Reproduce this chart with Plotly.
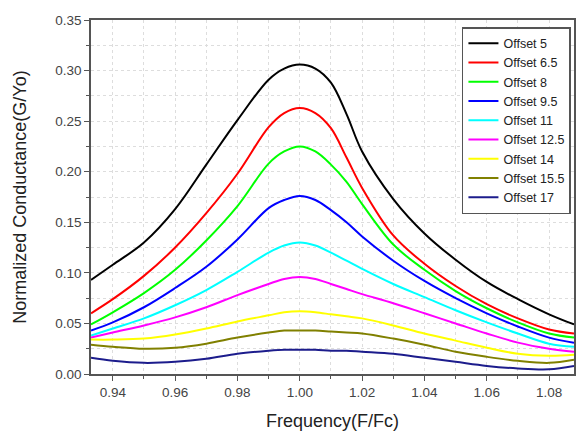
import plotly.graph_objects as go

freq = [0.933, 0.94, 0.95, 0.96, 0.97, 0.98, 0.99, 0.995, 1.00, 1.005, 1.01, 1.015,
        1.02, 1.03, 1.04, 1.05, 1.06, 1.07, 1.08, 1.088]

names = ["Offset 5", "Offset 6.5", "Offset 8", "Offset 9.5", "Offset 11",
         "Offset 12.5", "Offset 14", "Offset 15.5", "Offset 17"]

offset_5 = [0.093, 0.108, 0.130, 0.163, 0.207, 0.251, 0.291, 0.302, 0.306, 0.302, 0.288, 0.257, 0.220, 0.173, 0.139, 0.113, 0.091, 0.074, 0.059, 0.049]
offset_6_5 = [0.060, 0.074, 0.097, 0.125, 0.159, 0.198, 0.244, 0.258, 0.263, 0.258, 0.243, 0.214, 0.184, 0.137, 0.109, 0.087, 0.069, 0.055, 0.044, 0.040]
offset_8 = [0.049, 0.061, 0.080, 0.103, 0.132, 0.166, 0.208, 0.220, 0.225, 0.220, 0.207, 0.190, 0.168, 0.128, 0.103, 0.082, 0.065, 0.051, 0.040, 0.036]
offset_9_5 = [0.043, 0.051, 0.066, 0.085, 0.106, 0.133, 0.164, 0.172, 0.176, 0.172, 0.162, 0.150, 0.136, 0.112, 0.092, 0.075, 0.060, 0.047, 0.036, 0.031]
offset_11 = [0.038, 0.045, 0.055, 0.068, 0.083, 0.101, 0.120, 0.127, 0.130, 0.127, 0.120, 0.112, 0.104, 0.089, 0.076, 0.063, 0.051, 0.040, 0.030, 0.027]
offset_12_5 = [0.036, 0.041, 0.048, 0.056, 0.066, 0.078, 0.089, 0.094, 0.096, 0.094, 0.089, 0.084, 0.079, 0.070, 0.060, 0.050, 0.040, 0.031, 0.025, 0.022]
offset_14 = [0.034, 0.034, 0.035, 0.039, 0.045, 0.052, 0.058, 0.061, 0.062, 0.061, 0.059, 0.057, 0.055, 0.048, 0.040, 0.033, 0.026, 0.020, 0.018, 0.019]
offset_15_5 = [0.029, 0.027, 0.025, 0.026, 0.030, 0.036, 0.041, 0.043, 0.043, 0.043, 0.042, 0.041, 0.040, 0.035, 0.029, 0.022, 0.017, 0.013, 0.011, 0.014]
offset_17 = [0.016, 0.013, 0.011, 0.012, 0.015, 0.020, 0.023, 0.024, 0.024, 0.024, 0.023, 0.023, 0.022, 0.020, 0.016, 0.012, 0.008, 0.0055, 0.0047, 0.008]

series = [offset_5, offset_6_5, offset_8, offset_9_5, offset_11,
          offset_12_5, offset_14, offset_15_5, offset_17]
colors = ["#000000", "#ff0000", "#00ff00", "#0000ff", "#00ffff",
          "#ff00ff", "#ffff00", "#808000", "#1c1c8c"]

fig = go.Figure()
for name, ys, c in zip(names, series, colors):
    fig.add_trace(go.Scatter(x=freq, y=ys, name=name, mode="lines",
                             line=dict(color=c, width=2, shape="spline", smoothing=1.0)))

font_family = "Liberation Sans, Arial, sans-serif"
axis_common = dict(
    showline=True, linecolor="#555555", linewidth=1.5, mirror=True,
    ticks="outside", ticklen=5, tickwidth=1.2, tickcolor="#555555",
    showgrid=True, gridcolor="#dddddd", griddash="dot", gridwidth=1,
    zeroline=False,
    tickfont=dict(family=font_family, size=13.5, color="#444444"),
)

fig.update_layout(
    width=583, height=431,
    margin=dict(l=91, r=9, t=20, b=57, autoexpand=False),
    paper_bgcolor="white", plot_bgcolor="white",
    font=dict(family=font_family, color="#222222"),
    showlegend=True,
    legend=dict(
        x=0.768, y=0.98, xanchor="left", yanchor="top",
        bgcolor="white", bordercolor="#555555", borderwidth=1.5,
        font=dict(family=font_family, size=12.5, color="#222222"),
        itemwidth=30, tracegroupgap=0,
    ),
    xaxis=dict(
        range=[0.933, 1.088], tick0=0.94, dtick=0.02, tickformat=".2f",
        minor=dict(dtick=0.01, tick0=0.93, ticks="outside", ticklen=3, tickcolor="#555555",
                   showgrid=True, gridcolor="#dddddd", griddash="dot"),
        title=dict(text="Frequency(F/Fc)", font=dict(family=font_family, size=18, color="#222222"), standoff=16),
        **axis_common,
    ),
    yaxis=dict(
        range=[0, 0.35], tick0=0, dtick=0.05, tickformat=".2f",
        minor=dict(dtick=0.025, tick0=0, ticks="outside", ticklen=3, tickcolor="#555555",
                   showgrid=True, gridcolor="#dddddd", griddash="dot"),
        title=dict(text="Normalized Conductance(G/Yo)", font=dict(family=font_family, size=18, color="#222222"), standoff=24),
        **axis_common,
    ),
)

fig.write_html("out.html")
